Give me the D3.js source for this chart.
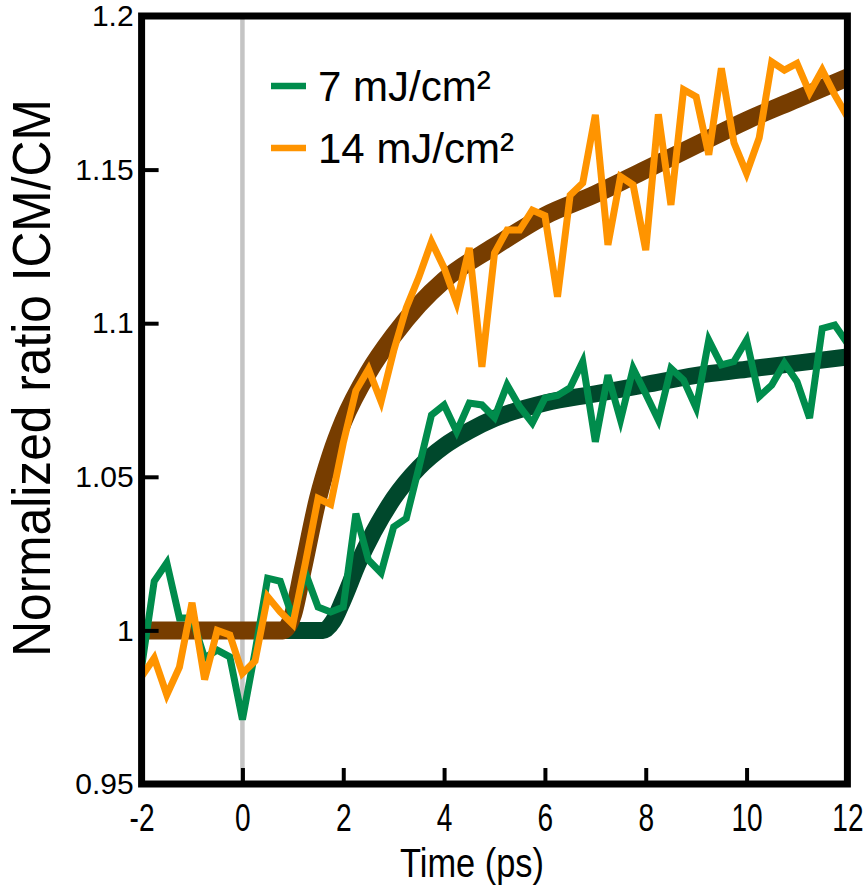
<!DOCTYPE html>
<html>
<head>
<meta charset="utf-8">
<script src="https://cdn.jsdelivr.net/npm/d3@7"></script>
<style>
  body { margin: 0; background: #fff; }
  svg text { font-family: "Liberation Sans", Arial, Helvetica, sans-serif; fill: #000; }
</style>
</head>
<body>
<div id="chart"></div>
<script>
// time axis of the measurements (ps)
const time = [-2, -1.75, -1.5, -1.25, -1, -0.75, -0.5, -0.25, 0, 0.25, 0.5, 0.75, 1, 1.25, 1.5, 1.75,
  2, 2.25, 2.5, 2.75, 3, 3.25, 3.5, 3.75, 4, 4.25, 4.5, 4.75, 5, 5.25, 5.5, 5.75, 6, 6.25, 6.5, 6.75,
  7, 7.25, 7.5, 7.75, 8, 8.25, 8.5, 8.75, 9, 9.25, 9.5, 9.75, 10, 10.25, 10.5, 10.75, 11, 11.25, 11.5, 11.75, 12];

// 7 mJ/cm2 measured ratio
const low = [0.988, 1.016, 1.022, 1.004, 1.004, 0.991, 0.9936, 0.9914, 0.971, 0.993, 1.017, 1.016, 1.004,
  1.0187, 1.0076, 1.006, 1.0076, 1.038, 1.0229, 1.0187, 1.0337, 1.0365, 1.053, 1.0701, 1.0734, 1.0647,
  1.074, 1.0734, 1.0693, 1.0799, 1.0728, 1.0675, 1.0756, 1.0765, 1.079, 1.0875, 1.0614, 1.0831, 1.0685,
  1.0853, 1.077, 1.0685, 1.0853, 1.0815, 1.0724, 1.0945, 1.0864, 1.0875, 1.0945, 1.0761, 1.0799, 1.087,
  1.081, 1.0691, 1.0983, 1.0994, 1.0935];

// 14 mJ/cm2 measured ratio
const high = [0.985, 0.991, 0.979, 0.988, 1.009, 0.984, 1.0, 0.9985, 0.986, 0.99, 1.011, 1.006, 1.002,
  1.022, 1.043, 1.041, 1.061, 1.078, 1.085, 1.0745, 1.091, 1.105, 1.115, 1.1265, 1.118, 1.1066, 1.1245,
  1.0858, 1.1228, 1.1303, 1.1303, 1.1368, 1.135, 1.1086, 1.1417, 1.1456, 1.1678, 1.1255, 1.1477, 1.145,
  1.1238, 1.168, 1.1385, 1.176, 1.1737, 1.1548, 1.183, 1.1587, 1.1488, 1.1603, 1.1851, 1.1824, 1.1846,
  1.175, 1.1824, 1.1743, 1.1672];

// fitted curves
const lowFitTime = [-2, 1.6, 1.8, 2, 2.3, 2.6, 3, 3.5, 4, 4.5, 5, 6, 7, 8, 9, 10, 11, 12];
const lowFit = [1, 1, 1.003, 1.01, 1.022, 1.032, 1.043, 1.053, 1.06, 1.065, 1.069, 1.074, 1.077, 1.08,
  1.083, 1.085, 1.087, 1.089];
const highFitTime = [-2, 0.8, 1, 1.2, 1.5, 1.75, 2, 2.5, 3, 3.5, 4, 5, 6, 7, 8, 9, 10, 11, 12];
const highFit = [1, 1, 1.005, 1.02, 1.043, 1.057, 1.068, 1.084, 1.096, 1.106, 1.114, 1.125, 1.135,
  1.142, 1.15, 1.158, 1.166, 1.173, 1.18];

const xTicks = [-2, 0, 2, 4, 6, 8, 10, 12];
const yTicks = [0.95, 1, 1.05, 1.1, 1.15, 1.2];
const yTickLabels = ["0.95", "1", "1.05", "1.1", "1.15", "1.2"];
const legendLabels = ["7 mJ/cm²", "14 mJ/cm²"];

const width = 865, height = 891;
const margin = { top: 16, right: 17.6, bottom: 107, left: 141.6 };

const svg = d3.select("#chart").append("svg")
  .attr("width", width)
  .attr("height", height);

const x = d3.scaleLinear().domain([-2, 12]).range([margin.left, width - margin.right]);
const y = d3.scaleLinear().domain([0.95, 1.2]).range([height - margin.bottom, margin.top]);

svg.append("clipPath").attr("id", "plot")
  .append("rect")
  .attr("x", x(-2)).attr("y", y(1.2))
  .attr("width", x(12) - x(-2)).attr("height", y(0.95) - y(1.2));

// grey line at time zero
svg.append("line")
  .attr("x1", x(0)).attr("x2", x(0))
  .attr("y1", y(0.95)).attr("y2", y(1.2))
  .attr("stroke", "#c4c4c4")
  .attr("stroke-width", 4.5);

const fitLine = d3.line().x(d => x(d[0])).y(d => y(d[1])).curve(d3.curveMonotoneX);
const dataLine = d3.line().x(d => x(d[0])).y(d => y(d[1]));

const g = svg.append("g").attr("clip-path", "url(#plot)");

g.append("path")
  .datum(d3.zip(lowFitTime, lowFit))
  .attr("fill", "none")
  .attr("stroke", "#00482c")
  .attr("stroke-width", 17)
  .attr("d", fitLine);

g.append("path")
  .datum(d3.zip(highFitTime, highFit))
  .attr("fill", "none")
  .attr("stroke", "#773d00")
  .attr("stroke-width", 18)
  .attr("d", fitLine);

g.append("path")
  .datum(d3.zip(time, low))
  .attr("fill", "none")
  .attr("stroke", "#008c4c")
  .attr("stroke-width", 7)
  .attr("d", dataLine);

g.append("path")
  .datum(d3.zip(time, high))
  .attr("fill", "none")
  .attr("stroke", "#ff9400")
  .attr("stroke-width", 7)
  .attr("d", dataLine);

// axes with inward ticks
const yAxis = svg.append("g")
  .attr("transform", `translate(${margin.left},0)`)
  .call(d3.axisLeft(y).tickValues(yTicks)
    .tickFormat((d, i) => yTickLabels[i])
    .tickSize(-17).tickPadding(8));

const xAxis = svg.append("g")
  .attr("transform", `translate(0,${height - margin.bottom})`)
  .call(d3.axisBottom(x).tickValues(xTicks)
    .tickFormat(d => d)
    .tickSize(-16).tickPadding(23));

for (let ax of [xAxis, yAxis]) {
  ax.select(".domain").remove();
  ax.selectAll(".tick line").attr("stroke", "#000").attr("stroke-width", 4);
  ax.selectAll(".tick text")
    .attr("font-family", "\"Liberation Sans\", Arial, sans-serif");
}
yAxis.selectAll(".tick text").attr("font-size", 30);
// the time labels are narrow and tall in the original
xAxis.selectAll(".tick text")
  .attr("font-size", 39)
  .attr("dy", "0.62em")
  .attr("transform", "scale(0.72,1)");

// frame
svg.append("rect")
  .attr("x", x(-2)).attr("y", y(1.2))
  .attr("width", x(12) - x(-2)).attr("height", y(0.95) - y(1.2))
  .attr("fill", "none")
  .attr("stroke", "#000")
  .attr("stroke-width", 7);

// axis titles
svg.append("text")
  .attr("transform", "translate(472,877) scale(0.86,1)")
  .attr("text-anchor", "middle")
  .attr("font-size", 40)
  .text("Time (ps)");

svg.append("text")
  .attr("transform", "translate(50,378) rotate(-90) scale(0.92,1)")
  .attr("text-anchor", "middle")
  .attr("font-size", 54)
  .text("Normalized ratio ICM/CM");

// legend
const legendColors = ["#008c4c", "#ff9400"];
legendLabels.forEach((label, i) => {
  const ly = 86 + i * 62;
  svg.append("line")
    .attr("x1", 271).attr("x2", 306)
    .attr("y1", ly).attr("y2", ly)
    .attr("stroke", legendColors[i])
    .attr("stroke-width", 6.5);
  svg.append("text")
    .attr("x", 318).attr("y", ly + 15)
    .attr("font-size", 42)
    .text(label);
});
</script>
</body>
</html>
